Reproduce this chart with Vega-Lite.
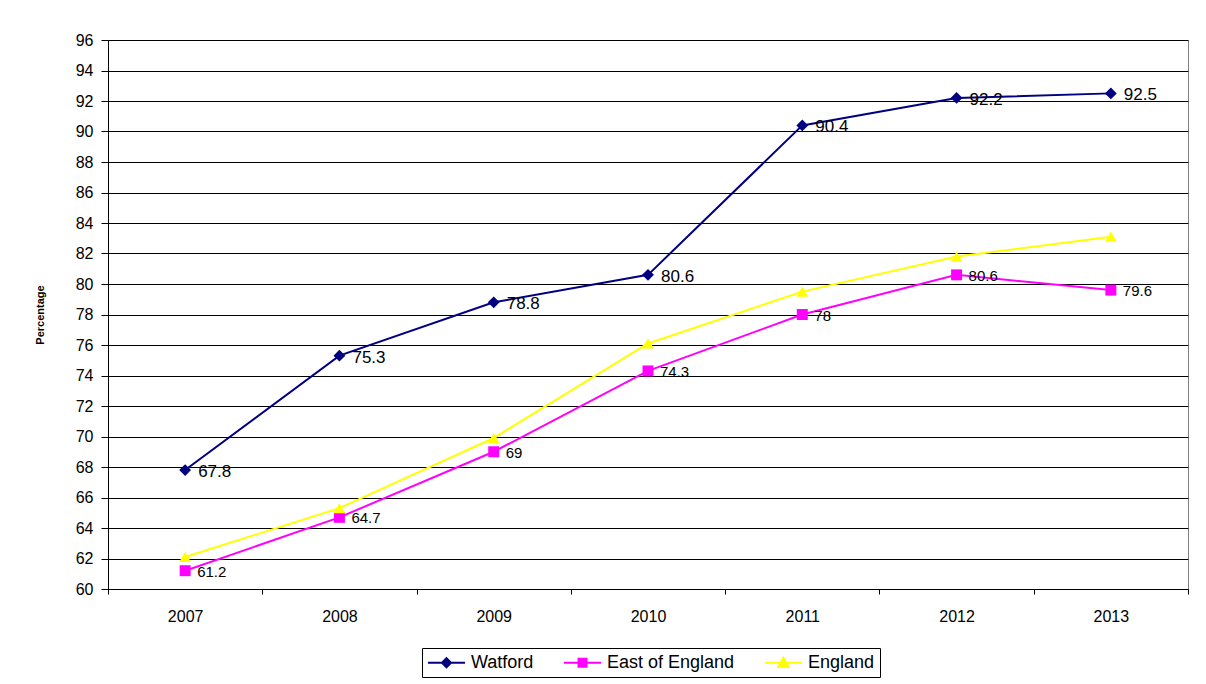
{
  "$schema": "https://vega.github.io/schema/vega-lite/v6.json",
  "width": 1080,
  "height": 549,
  "autosize": {"type": "none"},
  "padding": {"left": 108, "top": 40, "right": 18, "bottom": 95},
  "background": "white",
  "config": {"font": "Liberation Sans", "view": {"stroke": "#808080", "strokeWidth": 1}},
  "data": {"values": [
    {"year": "2007", "series": "Watford", "value": 67.8},
    {"year": "2008", "series": "Watford", "value": 75.3},
    {"year": "2009", "series": "Watford", "value": 78.8},
    {"year": "2010", "series": "Watford", "value": 80.6},
    {"year": "2011", "series": "Watford", "value": 90.4},
    {"year": "2012", "series": "Watford", "value": 92.2},
    {"year": "2013", "series": "Watford", "value": 92.5},
    {"year": "2007", "series": "East of England", "value": 61.2},
    {"year": "2008", "series": "East of England", "value": 64.7},
    {"year": "2009", "series": "East of England", "value": 69},
    {"year": "2010", "series": "East of England", "value": 74.3},
    {"year": "2011", "series": "East of England", "value": 78},
    {"year": "2012", "series": "East of England", "value": 80.6},
    {"year": "2013", "series": "East of England", "value": 79.6},
    {"year": "2007", "series": "England", "value": 62.1},
    {"year": "2008", "series": "England", "value": 65.3},
    {"year": "2009", "series": "England", "value": 69.9},
    {"year": "2010", "series": "England", "value": 76.1},
    {"year": "2011", "series": "England", "value": 79.5},
    {"year": "2012", "series": "England", "value": 81.8},
    {"year": "2013", "series": "England", "value": 83.1}
  ]},
  "encoding": {
    "x": {
      "field": "year", "type": "ordinal",
      "scale": {"type": "band", "paddingInner": 0, "paddingOuter": 0},
      "axis": {"title": null, "labelAngle": 0, "tickBand": "extent", "tickSize": 5, "tickColor": "black", "domainColor": "black", "labelFontSize": 16, "labelColor": "black", "labelPadding": 14, "grid": false}
    },
    "y": {
      "field": "value", "type": "quantitative",
      "scale": {"domain": [60, 96], "nice": false, "zero": false},
      "axis": {"title": "Percentage", "titleFontSize": 11, "titleFontWeight": "bold", "titleColor": "black", "titlePadding": 30,
        "values": [60,62,64,66,68,70,72,74,76,78,80,82,84,86,88,90,92,94,96],
        "tickSize": 7, "tickColor": "black", "domainColor": "black", "labelFontSize": 16, "labelColor": "black", "labelPadding": 8,
        "grid": true, "gridColor": "black", "gridOpacity": 1, "gridWidth": 1}
    }
  },
  "layer": [
    {"transform": [{"filter": "datum.series === 'England'"}],
     "mark": {"type": "line", "strokeWidth": 2, "color": "#FFFF00"}, "encoding": {}},
    {"transform": [{"filter": "datum.series === 'East of England'"}],
     "mark": {"type": "line", "strokeWidth": 2, "color": "#FF00FF"}, "encoding": {}},
    {"transform": [{"filter": "datum.series === 'Watford'"}],
     "mark": {"type": "line", "strokeWidth": 2, "color": "#000080"}, "encoding": {}},
    {"transform": [{"filter": "datum.series === 'Watford'"}],
     "mark": {"type": "point", "filled": true, "opacity": 1, "size": 140, "shape": "diamond", "color": "#000080"}},
    {"transform": [{"filter": "datum.series === 'East of England'"}],
     "mark": {"type": "point", "filled": true, "opacity": 1, "size": 120, "shape": "square", "color": "#FF00FF"}},
    {"transform": [{"filter": "datum.series === 'England'"}],
     "mark": {"type": "point", "filled": true, "opacity": 1, "size": 140, "shape": "triangle-up", "color": "#FFFF00"}},
    {"mark": {"type": "point", "filled": false, "opacity": 0, "size": 130, "strokeWidth": 2},
     "encoding": {
       "color": {"field": "series", "type": "nominal",
         "scale": {"domain": ["Watford", "East of England", "England"], "range": ["#000080", "#FF00FF", "#FFFF00"]},
         "legend": {"title": null, "orient": "none", "legendX": 314, "legendY": 608, "direction": "horizontal",
           "strokeColor": "black", "fillColor": "white", "padding": 5,
           "labelFontSize": 18, "labelColor": "black", "labelFont": "Liberation Sans",
           "symbolSize": 289, "symbolStrokeWidth": 2, "symbolOpacity": 1, "labelOffset": 25, "columnPadding": 26}},
       "shape": {"field": "series", "type": "nominal",
         "scale": {"domain": ["Watford", "East of England", "England"],
           "range": ["M-1,0H3.35M1.176,-0.53L1.706,0L1.176,0.53L0.646,0ZM1.176,-0.3L1.476,0L1.176,0.3L0.876,0ZM1.176,-0.08L1.256,0L1.176,0.08L1.096,0Z",
                     "M-1,0H3.35M0.706,-0.47H1.646V0.47H0.706ZM0.936,-0.24H1.416V0.24H0.936ZM1.146,-0.03H1.206V0.03H1.146Z",
                     "M-1,0H3.35M1.176,-0.6L1.796,0.5H0.556ZM1.176,-0.38L1.61,0.39H0.742ZM1.176,-0.16L1.424,0.28H0.928ZM1.176,0.045L1.25,0.177H1.102Z"]},
         "legend": {"title": null, "orient": "none", "legendX": 314, "legendY": 608, "direction": "horizontal",
           "strokeColor": "black", "fillColor": "white", "padding": 5,
           "labelFontSize": 18, "labelColor": "black", "labelFont": "Liberation Sans",
           "symbolSize": 289, "symbolStrokeWidth": 2, "symbolOpacity": 1, "labelOffset": 25, "columnPadding": 26}}
     }},
    {"transform": [{"filter": "datum.series === 'Watford'"}],
     "mark": {"type": "text", "align": "left", "baseline": "middle", "dx": 13, "dy": 2, "fontSize": 17, "color": "black"},
     "encoding": {"text": {"field": "value", "type": "quantitative"}}},
    {"transform": [{"filter": "datum.series === 'East of England'"}],
     "mark": {"type": "text", "align": "left", "baseline": "middle", "dx": 12, "dy": 1, "fontSize": 15, "color": "black"},
     "encoding": {"text": {"field": "value", "type": "quantitative"}}}
  ]
}
